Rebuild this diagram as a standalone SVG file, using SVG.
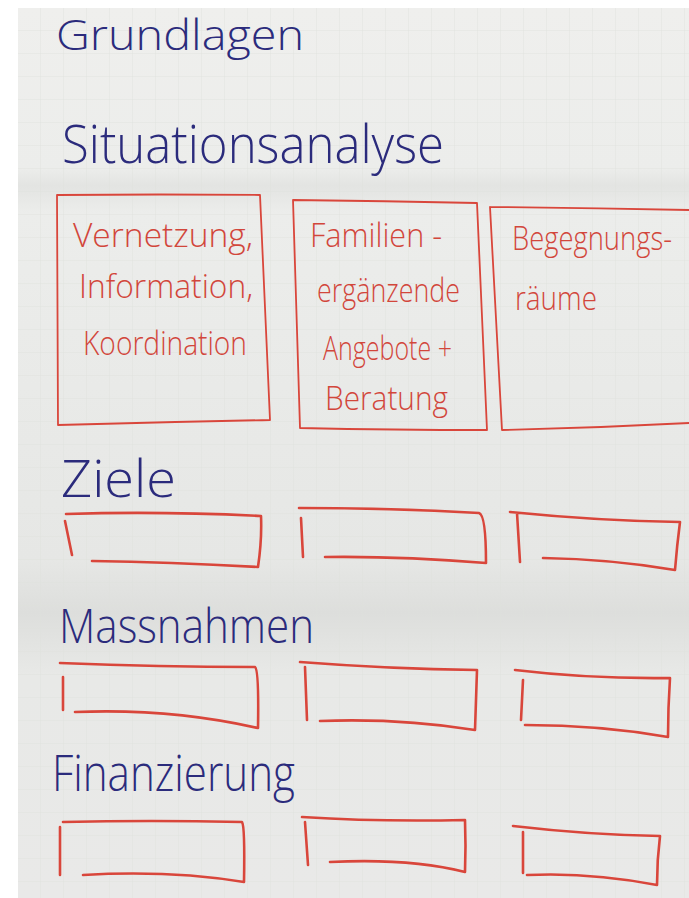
<svg xmlns="http://www.w3.org/2000/svg" width="689" height="898" viewBox="0 0 689 898">
  <defs>
    <pattern id="grid" width="23" height="23" patternUnits="userSpaceOnUse" x="18" y="8">
      <path d="M23 0 V23 M0 23 H23" fill="none" stroke="#dedfdc" stroke-width="0.8"/>
    </pattern>
    <linearGradient id="shade" x1="0" y1="0" x2="0" y2="1">
      <stop offset="0" stop-color="#efefed"/>
      <stop offset="0.18" stop-color="#ecedeb"/>
      <stop offset="0.20" stop-color="#e3e4e2"/>
      <stop offset="0.23" stop-color="#ecedeb"/>
      <stop offset="0.62" stop-color="#e6e7e5"/>
      <stop offset="0.68" stop-color="#dddedc"/>
      <stop offset="0.75" stop-color="#e8e9e7"/>
      <stop offset="1" stop-color="#e9e9e8"/>
    </linearGradient>
    <style>
      .h { font-family: "Open Sans", "Liberation Sans", sans-serif; font-weight: 300; fill: #2b2b7c; }
      .t { font-family: "Open Sans", "Liberation Sans", sans-serif; font-weight: 300; fill: #d2463b; font-size: 33px; }
      .b { fill: none; stroke: #d9463b; stroke-width: 2.6; stroke-linecap: round; stroke-linejoin: round; }
      .bt { fill: none; stroke: #d9463b; stroke-width: 1.8; stroke-linecap: round; stroke-linejoin: round; }
    </style>
  </defs>

  <rect width="689" height="898" fill="#ffffff"/>
  <rect x="18" y="8" width="671" height="890" fill="url(#shade)"/>
  <rect x="18" y="8" width="671" height="890" fill="url(#grid)"/>

  <!-- headings -->
  <g id="grundlagen"><text class="h" x="56" y="50" font-size="42" textLength="248" lengthAdjust="spacingAndGlyphs">Grundlagen</text></g>
  <g id="situationsanalyse"><text class="h" x="62" y="163" font-size="54" textLength="382" lengthAdjust="spacingAndGlyphs">Situationsanalyse</text></g>
  <g id="ziele"><text class="h" x="61" y="497" font-size="52" textLength="115" lengthAdjust="spacingAndGlyphs">Ziele</text></g>
  <g id="massnahmen"><text class="h" x="59" y="643" font-size="48" textLength="255" lengthAdjust="spacingAndGlyphs">Massnahmen</text></g>
  <g id="finanzierung"><text class="h" x="52" y="791" font-size="50" textLength="243" lengthAdjust="spacingAndGlyphs">Finanzierung</text></g>

  <!-- situation boxes -->
  <g id="box-vernetzung">
    <path class="bt" d="M57 195 Q160 194 260 195 L270 420 Q165 422 58 425 Z"/>
    <text class="t" x="73" y="247" textLength="180" lengthAdjust="spacingAndGlyphs">Vernetzung,</text>
    <text class="t" x="79" y="298" textLength="174" lengthAdjust="spacingAndGlyphs">Information,</text>
    <text class="t" x="83" y="355" textLength="164" lengthAdjust="spacingAndGlyphs">Koordination</text>
  </g>
  <g id="box-familien">
    <path class="bt" d="M293 200 Q385 201 477 203 L487 430 Q395 430 300 428 Z"/>
    <text class="t" x="310" y="247" textLength="132" lengthAdjust="spacingAndGlyphs">Familien -</text>
    <text class="t" x="317" y="302" textLength="143" lengthAdjust="spacingAndGlyphs">ergänzende</text>
    <text class="t" x="323" y="360" textLength="129" lengthAdjust="spacingAndGlyphs">Angebote +</text>
    <text class="t" x="325" y="410" textLength="123" lengthAdjust="spacingAndGlyphs">Beratung</text>
  </g>
  <g id="box-begegnung">
    <path class="bt" d="M490 207 Q590 208 689 210 M689 423 Q595 428 502 430 L490 207"/>
    <text class="t" x="512" y="250" font-size="27" textLength="160" lengthAdjust="spacingAndGlyphs">Begegnungs-</text>
    <text class="t" x="515" y="310" font-size="31" textLength="82" lengthAdjust="spacingAndGlyphs">räume</text>
  </g>

  <!-- Ziele boxes -->
  <g id="ziel-1">
    <path class="b" d="M66 514 Q160 511 261 516 Q262 540 258 567 Q170 562 92 561 M65 521 L72 555"/>
  </g>
  <g id="ziel-2">
    <path class="b" d="M299 508 Q390 508 479 513 Q486 515 486 563 Q400 556 325 557 M301 518 L303 557"/>
  </g>
  <g id="ziel-3">
    <path class="b" d="M510 512 Q600 521 680 522 Q677 545 675 570 Q610 559 543 558 M517 513 L520 562"/>
  </g>

  <!-- Massnahmen boxes -->
  <g id="mass-1">
    <path class="b" d="M60 663 Q160 667 255 667 Q259 670 258 728 Q170 708 75 712 M63 677 L63 710"/>
  </g>
  <g id="mass-2">
    <path class="b" d="M300 662 Q390 669 477 670 Q476 700 475 730 Q400 718 320 721 M305 667 L307 720"/>
  </g>
  <g id="mass-3">
    <path class="b" d="M515 670 Q590 679 670 678 Q668 708 668 737 Q600 725 525 725 M523 680 L521 720"/>
  </g>

  <!-- Finanzierung boxes -->
  <g id="fin-1">
    <path class="b" d="M63 822 Q150 820 242 822 Q245 826 244 882 Q170 870 83 875 M60 827 L60 875"/>
  </g>
  <g id="fin-2">
    <path class="b" d="M302 817 Q380 822 465 820 Q466 846 465 872 Q410 858 330 862 M305 822 L308 865"/>
  </g>
  <g id="fin-3">
    <path class="b" d="M513 826 Q590 835 660 836 Q657 860 657 885 Q590 872 527 875 M523 832 L523 873"/>
  </g>

  <g id="connectors"/>
</svg>
